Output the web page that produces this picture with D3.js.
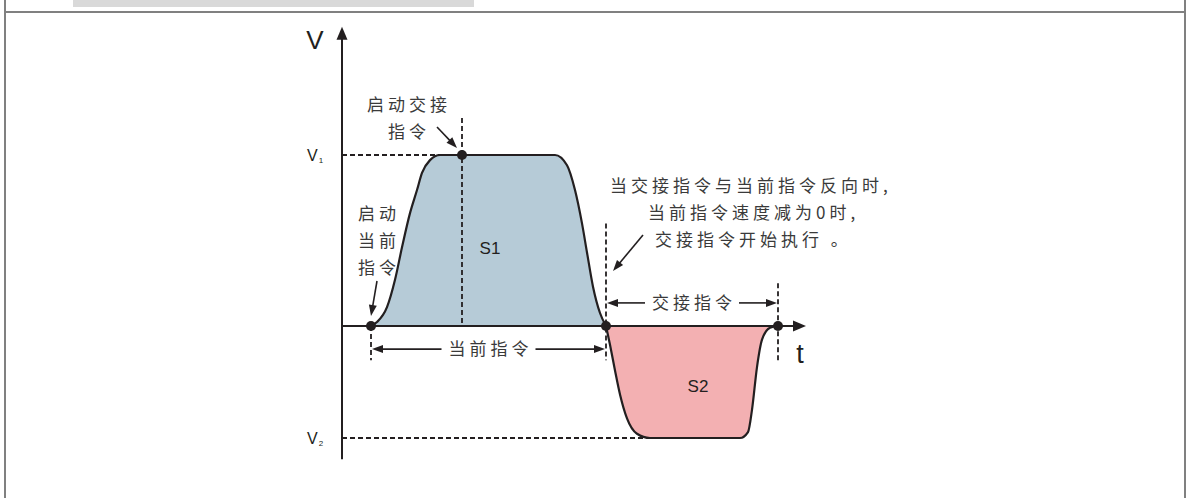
<!DOCTYPE html>
<html>
<head>
<meta charset="utf-8">
<script src="https://cdn.jsdelivr.net/npm/d3@7"></script>
<style>
body { margin: 0; background: #fff; }
text { font-family: "Noto Sans CJK SC", "Noto Sans", sans-serif; }
</style>
</head>
<body>
<svg id="chart" width="1189" height="498"></svg>
<script>
// velocity profiles: time (arbitrary units), velocity relative to V1
var s1Time = [2.9, 3.5, 4.5, 5.3, 6.0, 6.8, 7.5, 8.0, 8.8, 9.8, 21.3, 22.5, 23.3, 24.0, 24.5, 25.1, 25.8, 26.4];
var s1Vel  = [0, 0.023, 0.11, 0.27, 0.46, 0.66, 0.795, 0.895, 0.97, 1, 1, 0.94, 0.795, 0.60, 0.43, 0.23, 0.076, 0];
var s2Time = [26.4, 26.8, 27.3, 27.8, 28.5, 29.5, 30.8, 39.8, 40.6, 41.0, 41.5, 42.0, 42.8, 43.6];
var s2Vel  = [0, -0.11, -0.26, -0.40, -0.54, -0.63, -0.655, -0.655, -0.62, -0.49, -0.24, -0.08, -0.01, 0];

var levels = [1, -0.655];          // V1, V2
var levelSubs = ["1", "2"];
var levelEnds = [9.8, 30.4];       // where the dashed level line meets the curve
var eventTimes = [2.9, 12.0, 26.4, 43.6]; // start current, start handover, current done, handover done
var axisT = [0, 46.4];
var axisV = [-0.78, 1.75];

var noteTopLines = ["启动交接", "指令"];
var noteLeftLines = ["启动", "当前", "指令"];
var noteRightLines = ["当交接指令与当前指令反向时,", "当前指令速度减为0时,", "交接指令开始执行 。"];
var spanLabels = ["当前指令", "交接指令"];
var areaLabels = ["S1", "S2"];

var INK = "#231f20";
var TXT = "#3a3a3a";

var svg = d3.select("#chart");

// frame
svg.append("rect").attr("x", 73).attr("y", 0).attr("width", 401).attr("height", 7).attr("fill", "#d9d9d9");
svg.append("line").attr("x1", 4).attr("x2", 1186).attr("y1", 12).attr("y2", 12).attr("stroke", "#808080").attr("stroke-width", 2);
svg.append("line").attr("x1", 5).attr("x2", 5).attr("y1", 0).attr("y2", 498).attr("stroke", "#808080").attr("stroke-width", 2);
svg.append("line").attr("x1", 1185).attr("x2", 1185).attr("y1", 0).attr("y2", 498).attr("stroke", "#808080").attr("stroke-width", 2);

var x = d3.scaleLinear().domain([0, 46]).range([342, 802]);
var y = d3.scaleLinear().domain([levels[1], levels[0]]).range([438, 155]);

function head(px, py, ang, len, wid) {
    // filled triangle with tip at (px,py), pointing in direction ang
    var bx = px - len * Math.cos(ang), by = py - len * Math.sin(ang);
    var nx = -Math.sin(ang) * wid / 2, ny = Math.cos(ang) * wid / 2;
    svg.append("path")
        .attr("d", "M" + px + "," + py + "L" + (bx + nx) + "," + (by + ny) + "L" + (bx - nx) + "," + (by - ny) + "Z")
        .attr("fill", INK);
}

function arrow(x1, y1, x2, y2, len, wid) {
    var ang = Math.atan2(y2 - y1, x2 - x1);
    svg.append("line")
        .attr("x1", x1).attr("y1", y1)
        .attr("x2", x2 - len * 0.8 * Math.cos(ang)).attr("y2", y2 - len * 0.8 * Math.sin(ang))
        .attr("stroke", INK).attr("stroke-width", 1.6);
    head(x2, y2, ang, len, wid);
}

function dashed(x1, y1, x2, y2) {
    svg.append("line")
        .attr("x1", x1).attr("y1", y1).attr("x2", x2).attr("y2", y2)
        .attr("stroke", INK).attr("stroke-width", 1.8)
        .attr("stroke-dasharray", "5,3");
}

// areas
var area = d3.area().x(d => x(d[0])).y0(y(0)).y1(d => y(d[1])).curve(d3.curveMonotoneX);
var line = d3.line().x(d => x(d[0])).y(d => y(d[1])).curve(d3.curveMonotoneX);

var s1 = d3.zip(s1Time, s1Vel);
var s2 = d3.zip(s2Time, s2Vel);

svg.append("path").attr("d", area(s1)).attr("fill", "#b6cbd7");
svg.append("path").attr("d", area(s2)).attr("fill", "#f3b0b2");

// dashed level lines and event markers
levels.forEach(function (v, i) {
    dashed(x(0), y(v), x(levelEnds[i]), y(v));
});
dashed(x(eventTimes[1]), y(1.216), x(eventTimes[1]), y(0));
dashed(x(eventTimes[0]), y(0), x(eventTimes[0]), y(-0.2));
dashed(x(eventTimes[2]), y(0.6), x(eventTimes[2]), y(-0.2));
dashed(x(eventTimes[3]), y(0.25), x(eventTimes[3]), y(-0.2));

svg.append("path").attr("d", line(s1)).attr("fill", "none").attr("stroke", INK).attr("stroke-width", 2.2);
svg.append("path").attr("d", line(s2)).attr("fill", "none").attr("stroke", INK).attr("stroke-width", 2.2);

// axes
svg.append("line").attr("x1", x(0)).attr("x2", x(0)).attr("y1", y(axisV[0])).attr("y2", y(axisV[1]) + 8)
    .attr("stroke", INK).attr("stroke-width", 2);
head(x(0), y(axisV[1]), -Math.PI / 2, 13, 11);
svg.append("line").attr("x1", x(axisT[0])).attr("x2", x(axisT[1]) - 8).attr("y1", y(0)).attr("y2", y(0))
    .attr("stroke", INK).attr("stroke-width", 2.2);
head(x(axisT[1]), y(0), 0, 13, 11);

svg.append("text").attr("x", x(0) - 27).attr("y", y(axisV[1]) + 22)
    .attr("text-anchor", "middle").style("font-family", "Liberation Sans, Arial, sans-serif")
    .style("font-size", "26px").attr("fill", INK).text("V");
svg.append("text").attr("x", x(axisT[1]) - 6).attr("y", y(0) + 37)
    .attr("text-anchor", "middle").style("font-family", "Liberation Sans, Arial, sans-serif")
    .style("font-size", "27px").attr("fill", INK).text("t");

levels.forEach(function (v, i) {
    var t = svg.append("text").attr("x", x(0) - 35).attr("y", y(v) + 6)
        .style("font-family", "Liberation Sans, Arial, sans-serif").style("font-size", "16px").attr("fill", INK);
    t.append("tspan").text("V");
    t.append("tspan").attr("dx", 1).attr("dy", 2).style("font-size", "8px").text(levelSubs[i]);
});

// event dots
svg.append("circle").attr("cx", x(eventTimes[0])).attr("cy", y(0)).attr("r", 5).attr("fill", INK);
svg.append("circle").attr("cx", x(eventTimes[1])).attr("cy", y(1)).attr("r", 5).attr("fill", INK);
svg.append("circle").attr("cx", x(eventTimes[2])).attr("cy", y(0)).attr("r", 5).attr("fill", INK);
svg.append("circle").attr("cx", x(eventTimes[3])).attr("cy", y(0)).attr("r", 5).attr("fill", INK);

// area labels
svg.append("text").attr("x", 490).attr("y", 254).attr("text-anchor", "middle")
    .style("font-family", "Liberation Sans, Arial, sans-serif").style("font-size", "17px").attr("fill", INK).text(areaLabels[0]);
svg.append("text").attr("x", 698).attr("y", 392).attr("text-anchor", "middle")
    .style("font-family", "Liberation Sans, Arial, sans-serif").style("font-size", "17px").attr("fill", INK).text(areaLabels[1]);

function cnText(tx, ty, str, anchor) {
    return svg.append("text").attr("x", tx).attr("y", ty)
        .attr("text-anchor", anchor || "start")
        .style("font-size", "17px").style("letter-spacing", "4px")
        .attr("fill", TXT).text(str);
}

// span dimension arrows
var spanV = [-0.135, 0.135];
[[eventTimes[0], eventTimes[2]], [eventTimes[2], eventTimes[3]]].forEach(function (span, i) {
    var a = x(span[0]), b = x(span[1]), cy = y(spanV[i]);
    var mid = (a + b) / 2;
    var label = cnText(mid + 2, cy + 6, spanLabels[i], "middle");
    var w = label.node().getComputedTextLength() - 4;
    arrow(mid - w / 2 - 7, cy, a + 1, cy, 11, 8);
    arrow(mid + w / 2 + 7, cy, b - 1, cy, 11, 8);
});

// notes
noteTopLines.forEach(function (s, i) { cnText(409, 111 + i * 27, s, "middle"); });
arrow(437, 127, 457, 148, 11, 8);

noteLeftLines.forEach(function (s, i) { cnText(379, 220 + i * 27, s, "middle"); });
arrow(377, 281, 371, 316, 11, 8);

var rightStarts = [610, 648, 655];
noteRightLines.forEach(function (s, i) { cnText(rightStarts[i], 192 + i * 27, s); });
arrow(643, 235, 613, 271, 11, 8);
</script>
</body>
</html>
